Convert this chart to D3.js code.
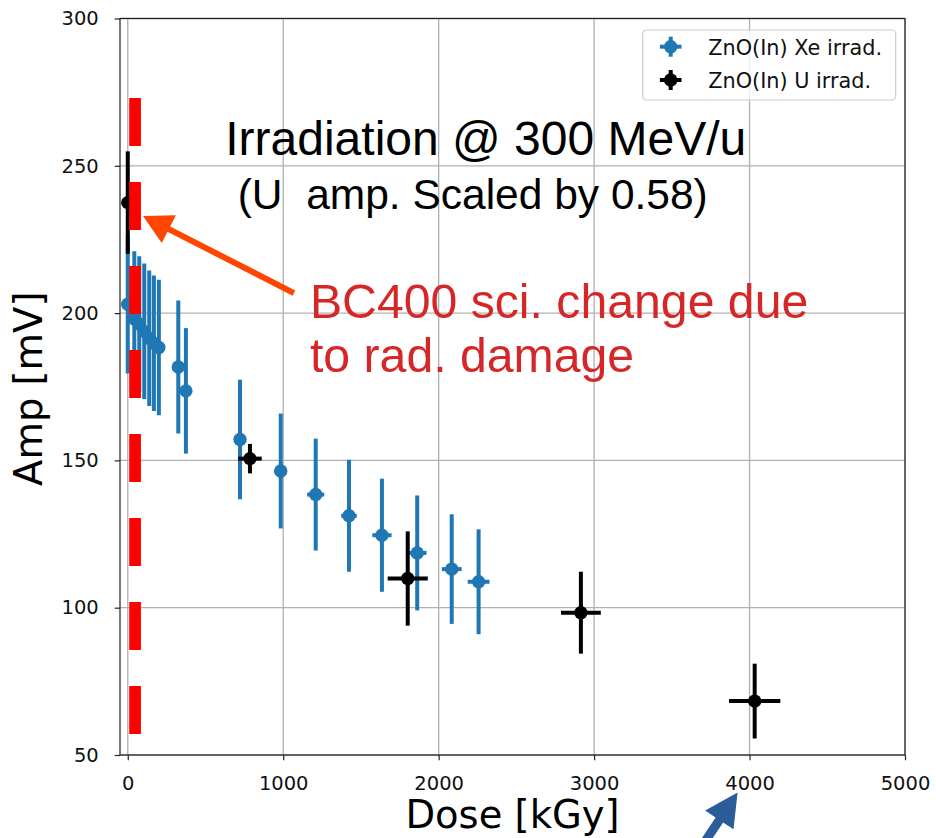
<!DOCTYPE html>
<html>
<head>
<meta charset="utf-8">
<script src="https://cdn.jsdelivr.net/npm/d3@7"></script>
<style>
  html, body { margin: 0; padding: 0; background: #ffffff; }
  svg { display: block; }
  .pre { white-space: pre; }
</style>
</head>
<body>
<svg id="chart" width="936" height="838"></svg>
<script>
// ZnO(In) irradiated with Xe ions
const xeDose   = [0, 42, 74, 106, 138, 168, 200, 325, 374, 722, 984, 1209, 1423, 1635, 1862, 2084, 2257];
const xeAmp    = [203, 198, 196.3, 193.8, 191.5, 189.8, 188.3, 181.7, 173.6, 157.1, 146.4, 138.4, 131.2, 124.6, 118.6, 113.1, 108.8];
const xeAmpErr = [23.5, 23, 23, 23, 23, 23, 23, 22.6, 21.3, 20.3, 19.5, 19, 19, 19.2, 19.5, 18.6, 17.8];
const xeDoseErr = [0, 0, 0, 0, 0, 0, 0, 20, 25, 36, 40, 55, 50, 62, 60, 64, 70];

// ZnO(In) irradiated with U ions (amplitude scaled by 0.58)
const uDose    = [0, 786, 1801, 2915, 4033];
const uAmp     = [237.5, 150.6, 109.9, 98.3, 68.3];
const uAmpErr  = [17.4, 5, 16, 13.9, 12.7];
const uDoseErr = [0, 76, 129, 128, 165];

// axis ticks
const doseTicks = [0, 1000, 2000, 3000, 4000, 5000];
const ampTicks  = [50, 100, 150, 200, 250, 300];

// series labels
const seriesNames = ["ZnO(In) Xe irrad.", "ZnO(In) U irrad."];

// BC400 scintillator reference (dashed marker)
const bcDose = 47;
const bcAmpRange = [57, 273];

const svg = d3.select("#chart");
const x = d3.scaleLinear().domain([-50, 5000]).range([120, 905]);
const y = d3.scaleLinear().domain([50, 300]).range([755, 18.5]);

const tickFont = "DejaVu Sans, sans-serif";
const annFont = "Liberation Sans, Arial, sans-serif";

// grid
const grid = svg.append("g").attr("stroke", "#b0b0b0").attr("stroke-width", 1.3);
doseTicks.forEach(t => grid.append("line")
  .attr("x1", x(t)).attr("x2", x(t)).attr("y1", y(300)).attr("y2", y(50)));
ampTicks.forEach(t => grid.append("line")
  .attr("x1", x(-50)).attr("x2", x(5000)).attr("y1", y(t)).attr("y2", y(t)));

// axes
const xAxis = svg.append("g").attr("transform", `translate(0,${y(50)})`)
  .call(d3.axisBottom(x).tickValues(doseTicks).tickSize(5.3).tickPadding(15.5).tickFormat(d3.format("d")));
const yAxis = svg.append("g").attr("transform", `translate(${x(-50)},0)`)
  .call(d3.axisLeft(y).tickValues(ampTicks).tickSize(5.3).tickPadding(16).tickFormat(d3.format("d")));
[xAxis, yAxis].forEach(a => {
  a.selectAll(".domain").remove();
  a.selectAll(".tick line").attr("stroke", "#222").attr("stroke-width", 1.2);
  a.selectAll("text").attr("font-family", tickFont).attr("font-size", 19.5).attr("fill", "#111");
});

// frame
svg.append("rect")
  .attr("x", x(-50)).attr("y", y(300))
  .attr("width", x(5000) - x(-50)).attr("height", y(50) - y(300))
  .attr("fill", "none").attr("stroke", "#222").attr("stroke-width", 1.2);

// error-bar series
function drawSeries(dose, amp, ampErr, doseErr, color) {
  const g = svg.append("g");
  const idx = d3.range(dose.length);
  g.selectAll("line.v").data(idx).join("line")
    .attr("x1", i => x(dose[i])).attr("x2", i => x(dose[i]))
    .attr("y1", i => y(amp[i] - ampErr[i])).attr("y2", i => y(amp[i] + ampErr[i]))
    .attr("stroke", color).attr("stroke-width", 4);
  g.selectAll("line.h").data(idx.filter(i => doseErr[i] > 0)).join("line")
    .attr("x1", i => x(dose[i] - doseErr[i])).attr("x2", i => x(dose[i] + doseErr[i]))
    .attr("y1", i => y(amp[i])).attr("y2", i => y(amp[i]))
    .attr("stroke", color).attr("stroke-width", 4);
  g.selectAll("circle").data(idx).join("circle")
    .attr("cx", i => x(dose[i])).attr("cy", i => y(amp[i]))
    .attr("r", 6.7).attr("fill", color);
}
drawSeries(xeDose, xeAmp, xeAmpErr, xeDoseErr, "#1f77b4");
drawSeries(uDose, uAmp, uAmpErr, uDoseErr, "#000000");

// BC400 dashed marker
svg.append("line")
  .attr("x1", x(bcDose)).attr("x2", x(bcDose))
  .attr("y1", y(bcAmpRange[1])).attr("y2", y(bcAmpRange[0]))
  .attr("stroke", "#ff0000").attr("stroke-width", 11.7)
  .attr("stroke-dasharray", "48 36");

// filled arrow from (x0,y0) to tip (x1,y1) in data units
function arrow(x0, y0, x1, y1, color, shaftW, headL, headW) {
  const px0 = x(x0), py0 = y(y0), px1 = x(x1), py1 = y(y1);
  const dx = px1 - px0, dy = py1 - py0, L = Math.hypot(dx, dy);
  const ux = dx / L, uy = dy / L, nx = -uy, ny = ux;
  const bx = px1 - ux * headL, by = py1 - uy * headL;
  const pts = [
    [px0 + nx * shaftW / 2, py0 + ny * shaftW / 2],
    [bx + nx * shaftW / 2, by + ny * shaftW / 2],
    [bx + nx * headW / 2, by + ny * headW / 2],
    [px1, py1],
    [bx - nx * headW / 2, by - ny * headW / 2],
    [bx - nx * shaftW / 2, by - ny * shaftW / 2],
    [px0 - nx * shaftW / 2, py0 - ny * shaftW / 2]
  ];
  svg.append("polygon").attr("points", pts.map(p => p.join(",")).join(" ")).attr("fill", color);
}
arrow(1069, 206.8, 98, 233, "#ff4500", 6, 29, 31);
arrow(3639, 14.7, 3923, 37.3, "#2a5d9a", 9, 33, 34);

// annotation text
svg.append("text").attr("x", x(627)).attr("y", y(253.7))
  .attr("font-family", annFont).attr("font-size", 48).attr("fill", "#000")
  .text("Irradiation @ 300 MeV/u");
svg.append("text").attr("class", "pre").attr("x", x(707)).attr("y", y(235.2))
  .attr("font-family", annFont).attr("font-size", 42.5).attr("fill", "#000")
  .text("(U  amp. Scaled by 0.58)");
const red = svg.append("text").attr("font-family", annFont).attr("font-size", 48.2).attr("fill", "#d62728");
red.append("tspan").attr("x", x(1172)).attr("y", y(198.3)).text("BC400 sci. change due");
red.append("tspan").attr("x", x(1172)).attr("y", y(180)).text("to rad. damage");

// axis titles
svg.append("text").attr("x", (x(-50) + x(5000)) / 2).attr("y", 828)
  .attr("text-anchor", "middle").attr("font-family", tickFont).attr("font-size", 38.5).attr("fill", "#000")
  .text("Dose [kGy]");
svg.append("text").attr("transform", `translate(42,${(y(50) + y(300)) / 2 + 2}) rotate(-90)`)
  .attr("text-anchor", "middle").attr("font-family", tickFont).attr("font-size", 38.5).attr("fill", "#000")
  .text("Amp [mV]");

// legend
const lg = svg.append("g").attr("transform", `translate(${x(5000) - 262.3},${y(300) + 11.5})`);
lg.append("rect").attr("width", 253).attr("height", 70).attr("rx", 4)
  .attr("fill", "#fff").attr("fill-opacity", 0.8).attr("stroke", "#cccccc").attr("stroke-width", 1.2);
[["#1f77b4", 0], ["#000000", 1]].forEach(([c, i]) => {
  const cy = 16.7 + i * 33.3, cx = 28;
  lg.append("line").attr("x1", cx).attr("x2", cx).attr("y1", cy - 10).attr("y2", cy + 10)
    .attr("stroke", c).attr("stroke-width", 4);
  lg.append("line").attr("x1", cx - 10.8).attr("x2", cx + 10.8).attr("y1", cy).attr("y2", cy)
    .attr("stroke", c).attr("stroke-width", 4);
  lg.append("circle").attr("cx", cx).attr("cy", cy).attr("r", 6.7).attr("fill", c);
  lg.append("text").attr("x", 65.6).attr("y", cy + 8.3)
    .attr("font-family", tickFont).attr("font-size", 20.8).attr("fill", "#111")
    .text(seriesNames[i]);
});
</script>
</body>
</html>
